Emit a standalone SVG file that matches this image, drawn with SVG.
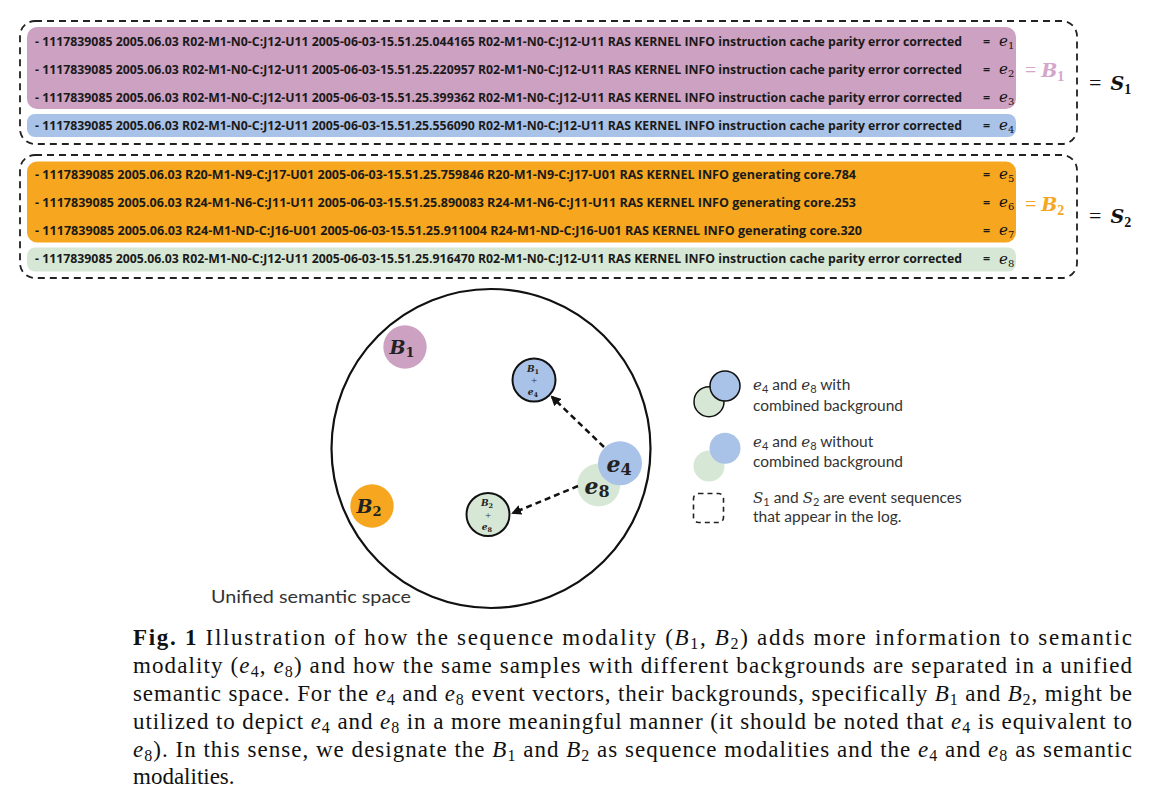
<svg xmlns="http://www.w3.org/2000/svg" width="1150" height="808" viewBox="0 0 1150 808">
<style>
.log{font-family:"Open Sans","Liberation Sans",sans-serif;font-weight:bold;font-size:12px;fill:#1a1a1a}
.eq{font-family:"Open Sans","Liberation Sans",sans-serif;font-weight:bold;font-size:12.5px;fill:#1a1a1a}
.me{font-family:"DejaVu Serif","Liberation Serif",serif;font-style:italic;font-size:15px;fill:#111}
.sub{font-size:10px;font-style:normal}
.dash{fill:none;stroke:#222;stroke-width:1.8;stroke-dasharray:7 5}
.node-lbl{font-family:"DejaVu Serif","Liberation Serif",serif;font-style:italic;font-weight:bold;fill:#222}
.ns{font-style:normal}
.ring{stroke:#111;stroke-width:2}
.leg{font-family:Lato,"Liberation Sans",sans-serif;font-size:15.5px;fill:#333}
.legm{font-family:"DejaVu Serif","Liberation Serif",serif;font-style:italic;font-size:15px}
.cap{font-family:"Liberation Serif","DejaVu Serif",serif;font-size:23px;fill:#111}
.it{font-style:italic}
.arrow{stroke:#111;stroke-width:2.5;stroke-dasharray:6 4;fill:none}
</style>
<defs>
<marker id="ah" viewBox="0 0 10 10" refX="8" refY="5" markerWidth="4" markerHeight="4" orient="auto">
<path d="M0,0 L10,5 L0,10 z" fill="#111"/>
</marker>
</defs>

<!-- S1 sequence -->
<g id="S1">
<rect class="dash" x="20" y="21" width="1057" height="123" rx="15"/>
<rect x="27" y="27" width="989" height="82" rx="10" fill="#CDA1C2"/>
<rect x="27" y="114" width="989" height="23" rx="8" fill="#A9C2E7"/>
<text class="log" x="35" y="45.5" textLength="927" lengthAdjust="spacingAndGlyphs">- 1117839085 2005.06.03 R02-M1-N0-C:J12-U11 2005-06-03-15.51.25.044165 R02-M1-N0-C:J12-U11 RAS KERNEL INFO instruction cache parity error corrected</text>
<text class="log" x="35" y="73.5" textLength="927" lengthAdjust="spacingAndGlyphs">- 1117839085 2005.06.03 R02-M1-N0-C:J12-U11 2005-06-03-15.51.25.220957 R02-M1-N0-C:J12-U11 RAS KERNEL INFO instruction cache parity error corrected</text>
<text class="log" x="35" y="101.5" textLength="927" lengthAdjust="spacingAndGlyphs">- 1117839085 2005.06.03 R02-M1-N0-C:J12-U11 2005-06-03-15.51.25.399362 R02-M1-N0-C:J12-U11 RAS KERNEL INFO instruction cache parity error corrected</text>
<text class="log" x="35" y="129.5" textLength="927" lengthAdjust="spacingAndGlyphs">- 1117839085 2005.06.03 R02-M1-N0-C:J12-U11 2005-06-03-15.51.25.556090 R02-M1-N0-C:J12-U11 RAS KERNEL INFO instruction cache parity error corrected</text>
<text class="eq" x="983" y="45.5">=</text><text class="me" x="999" y="46">e<tspan class="sub" dy="3">1</tspan></text>
<text class="eq" x="983" y="73.5">=</text><text class="me" x="999" y="74">e<tspan class="sub" dy="3">2</tspan></text>
<text class="eq" x="983" y="101.5">=</text><text class="me" x="999" y="102">e<tspan class="sub" dy="3">3</tspan></text>
<text class="eq" x="983" y="129.5">=</text><text class="me" x="999" y="130">e<tspan class="sub" dy="3">4</tspan></text>
<text x="1025" y="77" font-family="'Liberation Serif',serif" font-size="20" fill="#D4A6CB">= <tspan font-family="'DejaVu Serif',serif" font-style="italic" font-weight="bold" font-size="19">B</tspan><tspan font-size="14" font-weight="bold" dy="4">1</tspan></text>
<text x="1089" y="90" font-family="'Liberation Serif',serif" font-size="22" fill="#111">=<tspan font-family="'DejaVu Serif',serif" font-style="italic" font-weight="bold" font-size="19" dx="9">S</tspan><tspan font-size="14" font-weight="bold" dy="4">1</tspan></text>
</g>

<!-- S2 sequence -->
<g id="S2">
<rect class="dash" x="20" y="155" width="1057" height="123" rx="15"/>
<rect x="27" y="161.5" width="989" height="81" rx="10" fill="#F6A71F"/>
<rect x="27" y="247.5" width="989" height="24" rx="8" fill="#D6E8D5"/>
<text class="log" x="35" y="178.5" textLength="821" lengthAdjust="spacingAndGlyphs">- 1117839085 2005.06.03 R20-M1-N9-C:J17-U01 2005-06-03-15.51.25.759846 R20-M1-N9-C:J17-U01 RAS KERNEL INFO generating core.784</text>
<text class="log" x="35" y="206.5" textLength="821" lengthAdjust="spacingAndGlyphs">- 1117839085 2005.06.03 R24-M1-N6-C:J11-U11 2005-06-03-15.51.25.890083 R24-M1-N6-C:J11-U11 RAS KERNEL INFO generating core.253</text>
<text class="log" x="35" y="234.5" textLength="827" lengthAdjust="spacingAndGlyphs">- 1117839085 2005.06.03 R24-M1-ND-C:J16-U01 2005-06-03-15.51.25.911004 R24-M1-ND-C:J16-U01 RAS KERNEL INFO generating core.320</text>
<text class="log" x="35" y="263" textLength="927" lengthAdjust="spacingAndGlyphs">- 1117839085 2005.06.03 R02-M1-N0-C:J12-U11 2005-06-03-15.51.25.916470 R02-M1-N0-C:J12-U11 RAS KERNEL INFO instruction cache parity error corrected</text>
<text class="eq" x="983" y="178.5">=</text><text class="me" x="999" y="179">e<tspan class="sub" dy="3">5</tspan></text>
<text class="eq" x="983" y="206.5">=</text><text class="me" x="999" y="207">e<tspan class="sub" dy="3">6</tspan></text>
<text class="eq" x="983" y="234.5">=</text><text class="me" x="999" y="235">e<tspan class="sub" dy="3">7</tspan></text>
<text class="eq" x="983" y="263">=</text><text class="me" x="999" y="263.5">e<tspan class="sub" dy="3">8</tspan></text>
<text x="1025" y="211" font-family="'Liberation Serif',serif" font-size="20" fill="#F5A623">= <tspan font-family="'DejaVu Serif',serif" font-style="italic" font-weight="bold" font-size="19">B</tspan><tspan font-size="14" font-weight="bold" dy="4">2</tspan></text>
<text x="1089" y="223" font-family="'Liberation Serif',serif" font-size="22" fill="#111">=<tspan font-family="'DejaVu Serif',serif" font-style="italic" font-weight="bold" font-size="19" dx="9">S</tspan><tspan font-size="14" font-weight="bold" dy="4">2</tspan></text>
</g>

<!-- unified semantic space -->
<g id="space">
<circle cx="491" cy="448.5" r="159.5" fill="none" stroke="#111" stroke-width="2.2"/>
<text x="211" y="603" font-family="Lato,'Liberation Sans',sans-serif" font-size="17.5" fill="#333" textLength="200" lengthAdjust="spacingAndGlyphs">Unified semantic space</text>
</g>

<g id="nodeB1">
<circle cx="405" cy="347" r="21.7" fill="#CDA1C2"/>
<text class="node-lbl" x="402" y="354" font-size="19" text-anchor="middle">B<tspan class="ns" font-size="13" dy="3">1</tspan></text>
</g>
<g id="nodeB2">
<circle cx="372" cy="506" r="21.7" fill="#F6A71F"/>
<text class="node-lbl" x="369" y="513" font-size="19" text-anchor="middle">B<tspan class="ns" font-size="13" dy="3">2</tspan></text>
</g>
<g id="nodeB1e4">
<circle class="ring" cx="534" cy="380" r="21.5" fill="#A9C2E7"/>
<text class="node-lbl" x="533" y="372" font-size="9" text-anchor="middle" font-weight="normal">B<tspan class="ns" font-size="6.5" dy="2">1</tspan></text>
<text x="534" y="384" font-size="11" text-anchor="middle" font-family="'Liberation Serif',serif" fill="#333">+</text>
<text class="node-lbl" x="533" y="395" font-size="9" text-anchor="middle" font-weight="normal">e<tspan class="ns" font-size="6.5" dy="2">4</tspan></text>
</g>
<g id="nodeB2e8">
<circle class="ring" cx="488" cy="514.5" r="21.5" fill="#D6E8D5"/>
<text class="node-lbl" x="487" y="506" font-size="9" text-anchor="middle" font-weight="normal">B<tspan class="ns" font-size="6.5" dy="2">2</tspan></text>
<text x="488" y="518.5" font-size="11" text-anchor="middle" font-family="'Liberation Serif',serif" fill="#333">+</text>
<text class="node-lbl" x="487" y="530" font-size="9" text-anchor="middle" font-weight="normal">e<tspan class="ns" font-size="6.5" dy="2">8</tspan></text>
</g>
<g id="nodeE8">
<circle cx="598.7" cy="485" r="21.5" fill="#D6E8D5"/>
<text class="node-lbl" x="597" y="494" font-size="22" text-anchor="middle">e<tspan class="ns" font-size="16" dy="3">8</tspan></text>
</g>
<g id="nodeE4">
<circle cx="620" cy="463.3" r="22" fill="#A9C2E7"/>
<text class="node-lbl" x="619" y="472" font-size="22" text-anchor="middle">e<tspan class="ns" font-size="16" dy="3">4</tspan></text>
</g>

<g id="connectors">
<line class="arrow" x1="604" y1="447" x2="552" y2="397" marker-end="url(#ah)"/>
<line class="arrow" x1="578" y1="486" x2="513" y2="513" marker-end="url(#ah)"/>
</g>

<!-- legend -->
<g id="legend">
<circle cx="709" cy="401.7" r="15" fill="#D6E8D5" stroke="#111" stroke-width="1.5"/>
<circle cx="725" cy="386" r="15" fill="#A9C2E7" stroke="#111" stroke-width="1.5"/>
<circle cx="709" cy="466" r="15.5" fill="#D6E8D5"/>
<circle cx="725" cy="448.3" r="15.5" fill="#A9C2E7"/>
<rect x="693.5" y="493.5" width="30" height="29" rx="5" fill="none" stroke="#222" stroke-width="1.6" stroke-dasharray="5 4"/>
<text class="leg" x="753" y="390"><tspan class="legm">e</tspan><tspan font-size="11" dy="3">4</tspan><tspan dy="-3"> and </tspan><tspan class="legm">e</tspan><tspan font-size="11" dy="3">8</tspan><tspan dy="-3"> with</tspan></text>
<text class="leg" x="753" y="411" textLength="150" lengthAdjust="spacingAndGlyphs">combined background</text>
<text class="leg" x="753" y="447"><tspan class="legm">e</tspan><tspan font-size="11" dy="3">4</tspan><tspan dy="-3"> and </tspan><tspan class="legm">e</tspan><tspan font-size="11" dy="3">8</tspan><tspan dy="-3"> without</tspan></text>
<text class="leg" x="753" y="467" textLength="150" lengthAdjust="spacingAndGlyphs">combined background</text>
<text class="leg" x="753" y="503"><tspan class="legm">S</tspan><tspan font-size="11" dy="3">1</tspan><tspan dy="-3"> and </tspan><tspan class="legm">S</tspan><tspan font-size="11" dy="3">2</tspan><tspan dy="-3"> are event sequences</tspan></text>
<text class="leg" x="753" y="522">that appear in the log.</text>
</g>

<!-- caption -->
<g id="caption" class="cap">
<text x="133" y="645" textLength="999" lengthAdjust="spacing"><tspan font-weight="bold">Fig. 1</tspan>  Illustration of how the sequence modality (<tspan class="it">B</tspan><tspan font-size="16" dy="4">1</tspan><tspan dy="-4">, </tspan><tspan class="it">B</tspan><tspan font-size="16" dy="4">2</tspan><tspan dy="-4">) adds more information to semantic</tspan></text>
<text x="133" y="673" textLength="999" lengthAdjust="spacing">modality (<tspan class="it">e</tspan><tspan font-size="16" dy="4">4</tspan><tspan dy="-4">, </tspan><tspan class="it">e</tspan><tspan font-size="16" dy="4">8</tspan><tspan dy="-4">) and how the same samples with different backgrounds are separated in a unified</tspan></text>
<text x="133" y="701" textLength="999" lengthAdjust="spacing">semantic space. For the <tspan class="it">e</tspan><tspan font-size="16" dy="4">4</tspan><tspan dy="-4"> and </tspan><tspan class="it">e</tspan><tspan font-size="16" dy="4">8</tspan><tspan dy="-4"> event vectors, their backgrounds, specifically </tspan><tspan class="it">B</tspan><tspan font-size="16" dy="4">1</tspan><tspan dy="-4"> and </tspan><tspan class="it">B</tspan><tspan font-size="16" dy="4">2</tspan><tspan dy="-4">, might be</tspan></text>
<text x="133" y="729" textLength="999" lengthAdjust="spacing">utilized to depict <tspan class="it">e</tspan><tspan font-size="16" dy="4">4</tspan><tspan dy="-4"> and </tspan><tspan class="it">e</tspan><tspan font-size="16" dy="4">8</tspan><tspan dy="-4"> in a more meaningful manner (it should be noted that </tspan><tspan class="it">e</tspan><tspan font-size="16" dy="4">4</tspan><tspan dy="-4"> is equivalent to</tspan></text>
<text x="133" y="757" textLength="999" lengthAdjust="spacing"><tspan class="it">e</tspan><tspan font-size="16" dy="4">8</tspan><tspan dy="-4">). In this sense, we designate the </tspan><tspan class="it">B</tspan><tspan font-size="16" dy="4">1</tspan><tspan dy="-4"> and </tspan><tspan class="it">B</tspan><tspan font-size="16" dy="4">2</tspan><tspan dy="-4"> as sequence modalities and the </tspan><tspan class="it">e</tspan><tspan font-size="16" dy="4">4</tspan><tspan dy="-4"> and </tspan><tspan class="it">e</tspan><tspan font-size="16" dy="4">8</tspan><tspan dy="-4"> as semantic</tspan></text>
<text x="133" y="784">modalities.</text>
</g>
</svg>
